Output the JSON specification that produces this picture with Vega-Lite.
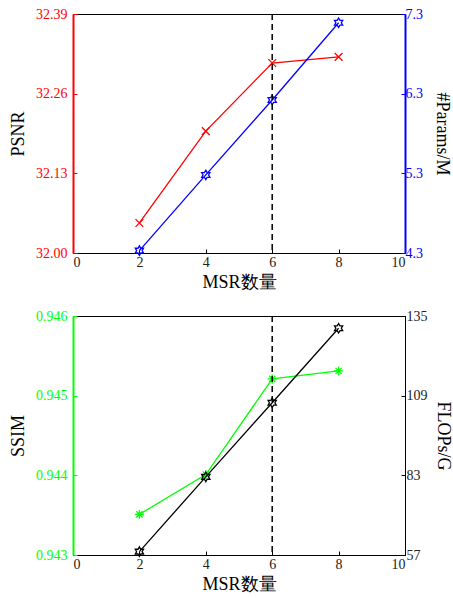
{
  "$schema": "https://vega.github.io/schema/vega-lite/v6.json",
  "padding": {"left": 9, "top": 6, "right": 2, "bottom": 5},
  "background": "white",
  "spacing": 16,
  "datasets": {
    "pts": [
      {"n": 2, "psnr": 32.049, "params": 4.33, "ssim": 0.94351, "flops": 58.1},
      {"n": 4, "psnr": 32.199, "params": 5.28, "ssim": 0.94401, "flops": 82.5},
      {"n": 6, "psnr": 32.31, "params": 6.22, "ssim": 0.94521, "flops": 106.7},
      {"n": 8, "psnr": 32.32, "params": 7.19, "ssim": 0.94531, "flops": 131.0}
    ],
    "cut": [{"n": 6}]
  },
  "config": {
    "view": {"stroke": "black", "strokeWidth": 1},
    "font": "Liberation Serif",
    "axis": {
      "labelFont": "Liberation Serif",
      "titleFont": "Liberation Serif",
      "labelFontSize": 14,
      "titleFontSize": 18,
      "titleFontWeight": "normal",
      "titleColor": "black",
      "grid": false,
      "tickSize": -4,
      "labelPadding": 6,
      "domainColor": "black",
      "tickColor": "black",
      "labelColor": "#222"
    }
  },
  "vconcat": [
    {
      "width": 332,
      "height": 239,
      "resolve": {"scale": {"y": "independent"}},
      "layer": [
        {
          "data": {"name": "pts"},
          "mark": {"type": "line", "color": "#ff0000", "strokeWidth": 1.3,
            "point": {"shape": "M-1,-1L1,1M-1,1L1,-1", "filled": false, "stroke": "#ff0000", "strokeWidth": 1.3, "size": 60}},
          "encoding": {
            "x": {"field": "n", "type": "quantitative",
              "scale": {"domain": [0, 10], "nice": false, "zero": false},
              "axis": {"orient": "bottom", "values": [0, 2, 4, 6, 8, 10], "title": "MSR数量", "titlePadding": 4}},
            "y": {"field": "psnr", "type": "quantitative",
              "scale": {"domain": [32.0, 32.39], "nice": false, "zero": false},
              "axis": {"orient": "left", "values": [32.0, 32.13, 32.26, 32.39], "format": ".2f", "labelPadding": 10,
                "title": "PSNR", "labelColor": "#ff0000", "domainColor": "#ff0000", "tickColor": "#ff0000", "domainWidth": 2, "titlePadding": 8}}
          }
        },
        {
          "data": {"name": "pts"},
          "mark": {"type": "line", "color": "#0000ff", "strokeWidth": 1.3,
            "point": {"shape": "M0,-1L0.289,-0.5L0.866,-0.5L0.577,0L0.866,0.5L0.289,0.5L0,1L-0.289,0.5L-0.866,0.5L-0.577,0L-0.866,-0.5L-0.289,-0.5Z", "filled": false, "stroke": "#0000ff", "strokeWidth": 1.3, "size": 90}},
          "encoding": {
            "x": {"field": "n", "type": "quantitative"},
            "y": {"field": "params", "type": "quantitative",
              "scale": {"domain": [4.3, 7.3], "nice": false, "zero": false},
              "axis": {"orient": "right", "values": [4.3, 5.3, 6.3, 7.3], "format": ".1f", "labelPadding": 4,
                "title": "#Params/M", "labelColor": "#0000ff", "domainColor": "#0000ff", "tickColor": "#0000ff", "domainWidth": 2, "titlePadding": 10}}
          }
        },
        {
          "data": {"name": "cut"},
          "mark": {"type": "rule", "color": "black", "strokeDash": [6, 4], "strokeWidth": 1.5},
          "encoding": {
            "x": {"field": "n", "type": "quantitative"}
          }
        }
      ]
    },
    {
      "width": 332,
      "height": 239,
      "resolve": {"scale": {"y": "independent"}},
      "layer": [
        {
          "data": {"name": "pts"},
          "mark": {"type": "line", "color": "#00ff00", "strokeWidth": 1.3,
            "point": {"shape": "M-1,0L1,0M0,-1L0,1M-0.7,-0.7L0.7,0.7M-0.7,0.7L0.7,-0.7", "filled": false, "stroke": "#00ff00", "strokeWidth": 1.3, "size": 80}},
          "encoding": {
            "x": {"field": "n", "type": "quantitative",
              "scale": {"domain": [0, 10], "nice": false, "zero": false},
              "axis": {"orient": "bottom", "values": [0, 2, 4, 6, 8, 10], "title": "MSR数量", "titlePadding": 4}},
            "y": {"field": "ssim", "type": "quantitative",
              "scale": {"domain": [0.943, 0.946], "nice": false, "zero": false},
              "axis": {"orient": "left", "values": [0.943, 0.944, 0.945, 0.946], "format": ".3f", "labelPadding": 10,
                "title": "SSIM", "labelColor": "#00ff00", "domainColor": "#00ff00", "tickColor": "#00ff00", "domainWidth": 2, "titlePadding": 8}}
          }
        },
        {
          "data": {"name": "pts"},
          "mark": {"type": "line", "color": "black", "strokeWidth": 1.3,
            "point": {"shape": "M0,-1L0.289,-0.5L0.866,-0.5L0.577,0L0.866,0.5L0.289,0.5L0,1L-0.289,0.5L-0.866,0.5L-0.577,0L-0.866,-0.5L-0.289,-0.5Z", "filled": false, "stroke": "black", "strokeWidth": 1.3, "size": 90}},
          "encoding": {
            "x": {"field": "n", "type": "quantitative"},
            "y": {"field": "flops", "type": "quantitative",
              "scale": {"domain": [57, 135], "nice": false, "zero": false},
              "axis": {"orient": "right", "values": [57, 83, 109, 135], "labelPadding": 5,
                "title": "FLOPs/G", "labelColor": "#222", "domainColor": "black", "tickColor": "black", "titlePadding": 6}}
          }
        },
        {
          "data": {"name": "cut"},
          "mark": {"type": "rule", "color": "black", "strokeDash": [6, 4], "strokeWidth": 1.5},
          "encoding": {
            "x": {"field": "n", "type": "quantitative"}
          }
        }
      ]
    }
  ]
}
